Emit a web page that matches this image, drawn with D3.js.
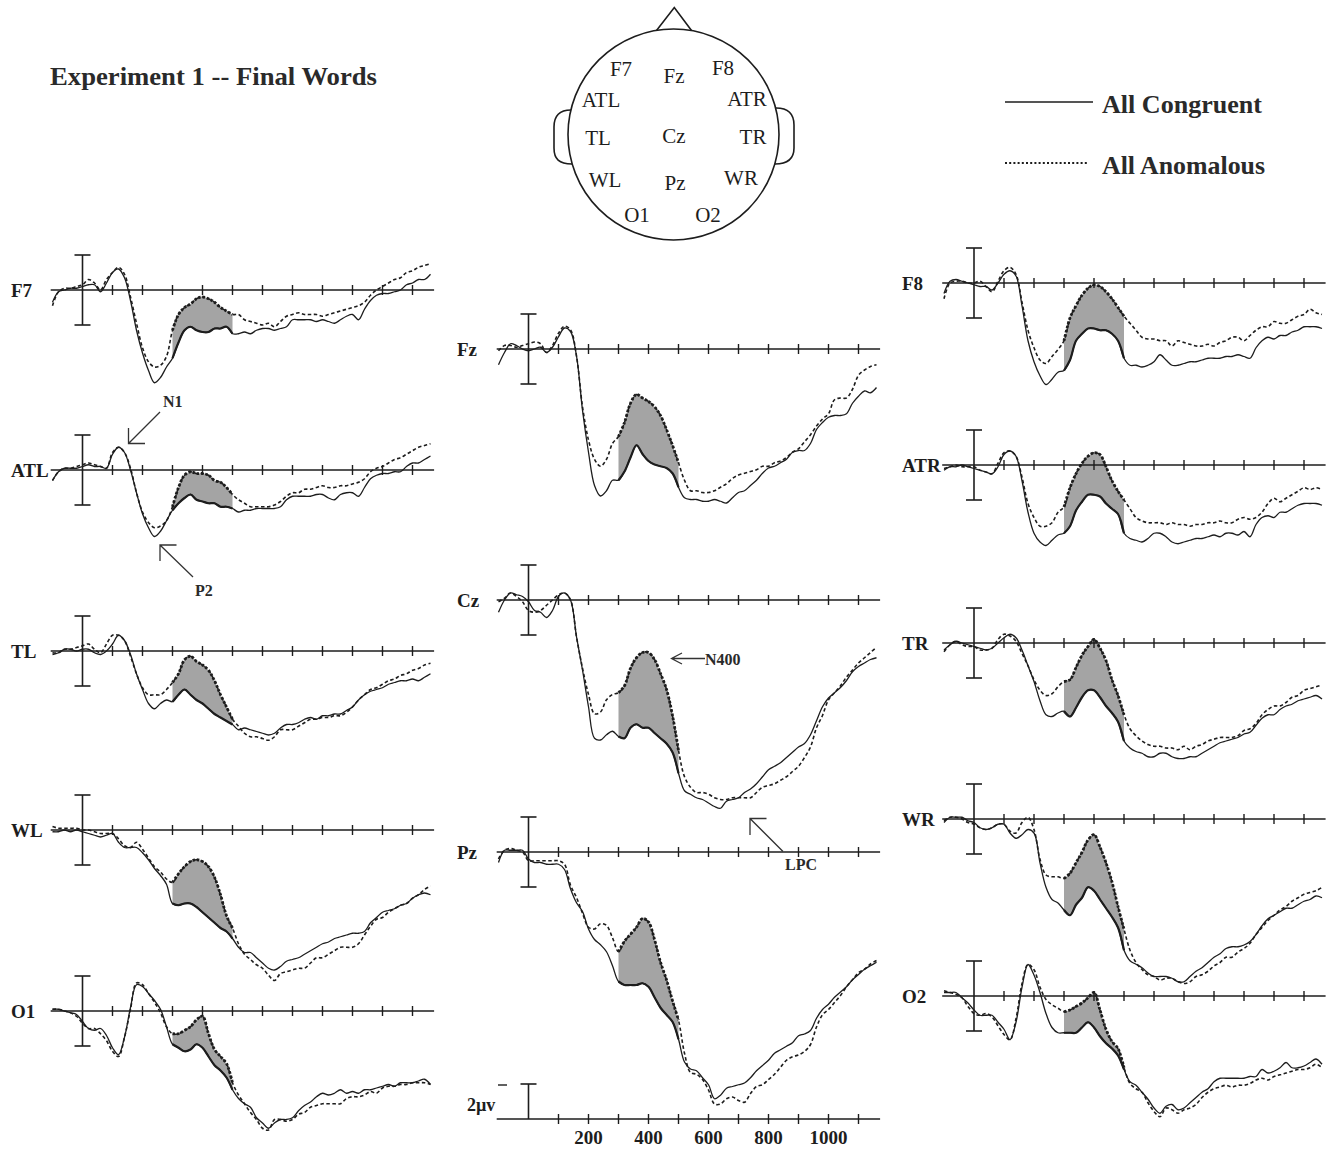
<!DOCTYPE html>
<html><head><meta charset="utf-8">
<script src="https://cdn.jsdelivr.net/npm/d3@7"></script>
<style>body{margin:0;background:#fff}svg{display:block}</style>
</head><body>
<svg id="chart" width="1331" height="1150"></svg>
<script>
// ---------------- DATA (µV, negative plotted up) ----------------
const TIMES = [-100,-80,-60,-40,-20,0,20,40,60,80,100,120,140,160,180,200,220,240,260,280,300,320,340,360,380,400,420,440,460,480,500,520,540,560,580,600,620,640,660,680,700,720,740,760,780,800,820,840,860,880,900,920,940,960,980,1000,1020,1040,1060,1080,1100,1120,1140,1160];
const CONDITIONS = ["All Congruent", "All Anomalous"];
const AXIS_TICKS = [100,200,300,400,500,600,700,800,900,1000,1100];
const TICK_LABELS = [200,400,600,800,1000];
const SHADE_WINDOW = [300, 500];
const CAL_UV = 2;

const F7_CONG = [0.7,0.1,0,-0.1,-0.1,-0.2,-0.3,-0.3,0.1,-0.4,-1.0,-1.2,-0.7,0.6,2.3,3.6,4.6,5.3,5.0,4.4,3.9,3.0,2.3,2.1,2.3,2.4,2.4,2.2,2.2,2.1,2.5,2.5,2.4,2.5,2.3,2.2,2.2,2.3,2.2,2.1,1.7,1.7,1.7,1.7,1.8,1.7,1.8,1.9,1.7,1.5,1.4,1.7,1.1,0.6,0.3,0.2,0.2,0.1,0,-0.3,-0.4,-0.6,-0.6,-0.9];
const F7_ANOM = [0.9,0.1,-0.1,-0.1,-0.2,-0.3,-0.6,-0.4,0,-0.6,-1.0,-1.3,-0.9,0.4,1.9,3.3,4.1,4.4,4.3,3.8,2.3,1.4,1.0,0.8,0.5,0.4,0.5,0.7,1.0,1.2,1.4,1.4,1.7,1.8,1.9,2.0,1.9,2.1,1.8,1.5,1.4,1.3,1.4,1.4,1.4,1.5,1.4,1.3,1.2,1.1,1.0,0.9,0.7,0.3,0,-0.2,-0.4,-0.6,-0.7,-1.0,-1.1,-1.3,-1.4,-1.5];
const ATL_CONG = [0.6,0.1,-0.1,-0.1,-0.1,-0.2,-0.3,-0.2,-0.2,-0.1,-0.9,-1.3,-1.0,0,1.3,2.5,3.3,3.8,3.5,2.9,2.3,1.9,1.6,1.4,1.7,1.8,1.9,1.9,2.1,2.1,2.2,2.4,2.3,2.3,2.2,2.2,2.2,2.2,2.1,1.7,1.5,1.5,1.5,1.5,1.4,1.4,1.6,1.7,1.4,1.3,1.3,1.5,1.0,0.5,0.3,0.2,0.2,0.1,0.1,-0.2,-0.4,-0.4,-0.6,-0.8];
const ATL_ANOM = [0.6,0.1,-0.1,-0.1,-0.2,-0.3,-0.4,-0.3,-0.2,-0.1,-1.0,-1.3,-1.0,-0.1,1.3,2.4,3.0,3.3,3.2,2.9,2.1,1.0,0.3,0.1,0.2,0.2,0.3,0.6,0.7,1.0,1.4,1.7,1.9,2.1,2.1,2.1,2.1,2.0,1.8,1.5,1.3,1.3,1.1,1.1,1.0,0.9,1.0,1.0,0.9,0.9,0.8,0.7,0.5,0.1,-0.1,-0.2,-0.4,-0.6,-0.7,-0.9,-1.1,-1.3,-1.4,-1.5];
const TL_CONG = [0.2,0.1,-0.1,-0.1,0,-0.1,-0.1,0.1,0.2,0,-0.4,-0.9,-0.6,0.2,1.3,2.2,3.0,3.3,3.0,2.8,2.9,2.5,2.2,2.5,2.8,3.0,3.3,3.6,3.8,4.0,4.2,4.5,4.4,4.5,4.6,4.7,4.8,4.7,4.4,4.2,4.2,4.1,3.9,3.8,3.9,3.7,3.7,3.6,3.6,3.4,3.2,2.8,2.5,2.3,2.2,2.1,1.9,1.8,1.7,1.7,1.6,1.7,1.5,1.3];
const TL_ANOM = [0.1,0.1,-0.1,-0.1,-0.2,-0.3,-0.4,-0.1,0.1,-0.4,-0.9,-0.9,-0.6,0.3,1.3,2.1,2.5,2.5,2.5,2.2,1.8,1.3,0.5,0.3,0.6,0.8,1.1,1.7,2.5,3.2,3.9,4.3,4.7,4.9,4.9,5.0,5.1,4.9,4.5,4.5,4.5,4.3,4.1,3.9,3.9,3.8,3.8,3.7,3.7,3.5,3.2,2.8,2.5,2.2,2.1,1.9,1.7,1.6,1.4,1.3,1.1,1.0,0.8,0.7];
const WL_CONG = [0.1,0.1,0,0.1,0,0.1,0.2,0.3,0.4,0.3,0.2,0.7,1.0,1.0,1.0,1.3,1.7,2.2,2.6,3.1,4.2,4.3,4.2,4.2,4.4,4.7,5.0,5.3,5.6,5.8,6.2,6.7,7.0,7.0,7.3,7.6,7.9,8.0,7.8,7.5,7.4,7.3,7.1,6.9,6.7,6.5,6.4,6.2,6.1,6.0,5.9,5.9,5.8,5.3,5.0,4.7,4.6,4.5,4.3,4.2,3.9,3.7,3.6,3.7];
const WL_ANOM = [-0.2,-0.1,-0.1,-0.1,-0.1,0,0,0.1,0.2,0.2,0.2,0.5,0.9,1.0,0.7,1.1,1.6,2.1,2.4,2.8,3.0,2.5,2.1,1.8,1.7,1.8,2.1,2.7,3.7,4.9,5.6,6.5,7.1,7.4,7.7,7.9,8.3,8.6,8.2,8.1,8.0,7.9,7.9,7.6,7.3,7.3,7.1,6.9,6.7,6.7,6.7,6.5,6.0,5.5,5.1,5.0,4.7,4.5,4.3,4.2,3.9,3.7,3.4,3.2];
const O1_CONG = [-0.1,-0.1,0,0.1,0.2,0.6,1.0,1.1,1.0,1.4,2.1,2.5,1.5,-0.2,-1.5,-1.4,-1.0,-0.6,-0.1,0.9,1.9,2.1,2.3,2.2,1.9,2.1,2.6,3.1,3.4,3.8,4.5,5.0,5.3,5.5,6.1,6.4,6.7,6.4,6.2,6.2,6.1,5.7,5.4,5.2,4.9,4.7,4.8,4.7,4.5,4.7,4.6,4.7,4.5,4.5,4.4,4.3,4.2,4.3,4.1,4.1,4.1,4.0,3.9,4.2];
const O1_ANOM = [-0.1,-0.1,0,0.1,0.3,0.7,1.0,1.0,1.3,1.7,2.3,2.6,1.5,-0.1,-1.6,-1.5,-1.0,-0.5,0.1,0.9,1.3,1.3,1.1,0.9,0.5,0.3,1.3,2.2,2.6,3.0,4.1,4.8,5.3,5.8,6.2,6.7,6.8,6.2,6.2,6.3,6.2,5.9,5.8,5.5,5.4,5.3,5.3,5.3,5.3,5.0,4.9,4.9,4.8,4.6,4.7,4.4,4.3,4.3,4.2,4.2,4.1,4.1,4.1,4.2];
const FZ_CONG = [0.9,0.2,-0.3,-0.2,0,0.1,0,-0.1,0.2,-0.1,-0.7,-1.2,-1.0,0.4,3.5,5.9,7.8,8.4,8.1,7.5,7.5,7.0,6.2,5.5,6.0,6.4,6.6,6.7,6.8,7.1,7.9,8.5,8.6,8.6,8.7,8.7,8.6,8.7,8.8,8.5,8.2,8.1,7.8,7.5,7.1,6.8,6.7,6.5,6.3,5.9,5.8,5.8,5.4,4.6,4.2,3.9,3.8,3.8,3.7,3.1,2.7,2.4,2.5,2.2];
const FZ_ANOM = [0.1,-0.2,-0.2,-0.1,-0.2,-0.3,-0.4,-0.3,0.2,-0.2,-0.9,-1.3,-1.1,0.4,3.3,5.2,6.3,6.7,6.3,5.4,5.0,4.2,3.1,2.6,2.8,3.0,3.3,3.8,4.6,5.5,6.5,7.5,8.1,8.1,8.2,8.2,8.1,7.9,7.7,7.4,7.2,7.1,7.0,6.9,6.7,6.7,6.5,6.4,6.2,5.9,5.7,5.3,4.9,4.4,4.0,3.7,2.9,2.8,2.8,2.3,1.5,1.2,1.0,0.9];
const CZ_CONG = [0.7,0,-0.4,-0.3,-0.2,0.1,0.6,0.7,1.0,0.6,-0.2,-0.4,0,2.1,4.0,6.1,7.9,8.0,7.7,7.5,7.8,7.9,7.3,7.1,7.3,7.3,7.6,7.9,8.2,8.7,9.9,10.9,11.1,11.3,11.4,11.6,11.8,11.9,11.5,11.4,11.3,11.0,10.8,10.5,10.1,9.7,9.5,9.3,9.0,8.7,8.4,8.2,7.7,6.9,6.1,5.6,5.3,5.0,4.6,4.1,3.8,3.6,3.4,3.3];
const CZ_ANOM = [0.1,-0.1,-0.4,-0.2,0.1,0.6,0.7,0.6,0.3,0,-0.3,-0.4,0,2.1,3.9,5.4,6.5,6.4,5.7,5.4,5.3,4.9,3.9,3.3,3.0,3.0,3.4,4.2,5.1,6.6,8.6,10.1,10.7,11.0,11.0,11.1,11.3,11.4,11.4,11.3,11.3,11.3,11.3,11.0,10.7,10.6,10.5,10.3,10.1,9.8,9.5,9.0,8.4,7.3,6.6,5.7,5.3,4.9,4.4,4.0,3.6,3.3,3.0,2.7];
const PZ_CONG = [0.6,-0.1,-0.1,-0.1,-0.1,0.4,0.6,0.6,0.7,0.7,0.7,1.0,2.1,2.9,3.4,4.4,5.0,5.3,5.7,6.5,7.4,7.6,7.6,7.6,7.5,7.7,8.3,8.9,9.3,9.7,10.7,12.0,12.4,12.5,12.9,13.3,14.1,13.9,13.5,13.4,13.3,13.2,12.9,12.5,12.2,11.9,11.5,11.3,11.1,10.9,10.5,10.4,10.2,9.5,9.0,8.7,8.3,8.0,7.7,7.3,7.0,6.7,6.5,6.3];
const PZ_ANOM = [0.4,-0.1,-0.2,-0.1,0,0.5,0.5,0.5,0.5,0.5,0.5,0.7,1.9,2.6,3.5,4.3,4.4,4.1,4.2,4.9,5.7,5.1,4.7,4.3,3.8,4.0,5.0,6.3,7.3,8.5,9.6,11.5,12.6,12.7,13.0,13.6,14.4,14.4,14.1,14.0,14.2,14.3,13.8,13.4,13.3,13.0,12.7,12.3,11.9,11.7,11.6,11.4,11.0,10.0,9.3,9.0,8.6,8.2,7.7,7.3,6.9,6.7,6.4,6.2];
const F8_CONG = [0.6,-0.1,-0.2,-0.1,0,0.1,0.2,0.2,0.4,0,-0.5,-0.7,-0.4,1.3,3.3,4.5,5.3,5.8,5.5,5.1,5.0,4.4,3.3,2.9,2.6,2.6,2.7,2.7,2.9,3.3,4.3,4.7,4.7,4.8,4.7,4.5,4.1,4.4,4.7,4.7,4.6,4.5,4.5,4.4,4.3,4.3,4.3,4.2,4.2,4.1,4.2,4.3,3.7,3.3,3.1,3.2,3.0,3.0,2.8,2.7,2.5,2.5,2.5,2.6];
const F8_ANOM = [0.9,0,-0.1,-0.1,0,0,-0.1,0.2,0.5,-0.1,-0.7,-0.9,-0.5,1.1,2.7,3.7,4.4,4.6,4.2,3.8,3.3,2.0,1.3,0.7,0.3,0.1,0.2,0.5,0.9,1.4,1.9,2.3,2.7,3.1,3.2,3.2,3.3,3.3,3.6,3.3,3.4,3.5,3.6,3.6,3.5,3.6,3.4,3.3,3.1,3.1,3.3,3.0,2.7,2.5,2.5,2.2,2.3,2.3,2.1,1.9,1.8,1.5,1.7,1.8];
const ATR_CONG = [0.3,0.1,0.1,0,0.1,0.2,0.3,0.4,0.5,0.1,-0.6,-0.8,-0.5,0.9,2.7,3.9,4.4,4.6,4.3,4.0,3.9,3.5,2.6,2.1,1.7,1.7,1.8,2.2,2.5,2.8,3.9,4.2,4.3,4.4,4.2,3.9,3.9,4.1,4.4,4.5,4.4,4.3,4.2,4.2,4.1,4.0,4.1,3.9,3.9,4.0,3.8,4.1,3.4,3.0,2.9,3.0,2.7,2.7,2.5,2.3,2.2,2.2,2.2,2.3];
const ATR_ANOM = [0.2,0.1,0,0.1,0.1,0.1,0.3,0.4,0.5,-0.1,-0.7,-0.8,-0.5,0.7,2.2,3.0,3.5,3.5,3.3,2.7,2.4,1.3,0.5,-0.1,-0.5,-0.7,-0.6,0.1,0.9,1.5,2.0,2.5,3.0,3.2,3.3,3.3,3.3,3.4,3.3,3.4,3.4,3.5,3.4,3.4,3.3,3.3,3.2,3.3,3.3,3.1,3.0,3.1,3.0,2.7,2.2,1.9,2.1,1.9,1.7,1.5,1.3,1.4,1.3,1.4];
const TR_CONG = [0.4,0.1,-0.1,0,0.1,0.2,0.3,0.4,0.3,0,-0.3,-0.5,-0.3,0.4,1.3,2.2,3.3,4.1,4.2,4.0,3.9,4.2,3.7,3.1,2.7,2.7,3.1,3.6,4.0,4.5,5.6,6.0,6.2,6.3,6.5,6.5,6.3,6.3,6.5,6.6,6.6,6.5,6.5,6.3,6.1,5.9,5.7,5.6,5.5,5.4,5.2,5.1,4.7,4.3,4.1,4.1,3.8,3.6,3.5,3.3,3.2,3.1,3.0,3.2];
const TR_ANOM = [0.5,0.1,-0.1,0.1,0.2,0.2,0.4,0.4,0.3,-0.2,-0.5,-0.4,-0.1,0.6,1.3,2.1,2.7,3.0,2.9,2.5,2.2,2.1,1.4,0.7,0.2,-0.2,0.3,1.0,2.1,3.0,4.1,4.9,5.3,5.6,5.8,5.9,5.9,6.0,6.0,6.1,5.9,6.1,5.9,5.8,5.6,5.5,5.4,5.4,5.4,5.3,5.0,4.9,4.6,4.1,3.8,3.6,3.6,3.4,3.1,3.0,2.7,2.6,2.5,2.4];
const WR_CONG = [0.2,-0.1,-0.1,-0.1,0.1,0.2,0.5,0.6,0.5,0.3,0.3,0.8,1.1,0.9,0.6,0.8,2.5,3.9,4.6,4.8,5.2,5.5,4.9,4.5,3.9,4.1,4.6,5.1,5.6,6.2,7.5,8.1,8.3,8.5,8.8,9.0,9.0,9.0,9.1,9.3,9.3,9.0,8.7,8.5,8.2,7.9,7.7,7.4,7.3,7.3,7.2,7.0,6.6,6.1,5.7,5.5,5.3,5.1,5.1,4.9,4.7,4.6,4.4,4.5];
const WR_ANOM = [0.1,-0.1,-0.1,0,0.2,0.3,0.5,0.6,0.5,0.3,0.3,0.7,0.8,0.2,-0.1,0.6,2.3,3.2,3.3,3.3,3.4,3.1,2.5,1.9,1.2,0.9,1.6,2.5,3.6,5.0,6.3,7.5,8.2,8.6,8.9,9.0,9.2,9.1,9.1,9.3,9.4,9.3,9.0,8.9,8.7,8.4,8.2,7.9,7.9,7.6,7.4,7.1,6.6,6.2,5.8,5.5,5.2,5.0,4.7,4.5,4.3,4.2,4.1,3.9];
const O2_CONG = [-0.2,-0.2,-0.2,0.1,0.4,0.8,1.1,1.1,1.1,1.5,1.9,2.5,1.5,-0.5,-1.8,-1.2,-0.2,1.0,1.8,2.1,2.1,2.1,2.1,1.8,1.5,1.8,2.3,2.7,3.0,3.4,4.2,4.9,5.1,5.5,5.9,6.4,6.7,6.3,6.2,6.5,6.4,6.1,5.8,5.5,5.3,4.9,4.7,4.7,4.7,4.7,4.7,4.6,4.6,4.2,4.4,4.3,4.1,3.8,4.1,4.1,4.0,3.8,3.6,3.9];
const O2_ANOM = [-0.3,-0.2,-0.1,0.1,0.6,1.0,1.1,1.0,1.2,1.7,2.2,2.5,1.3,-0.7,-1.8,-1.5,-0.5,0.2,0.5,0.7,0.9,0.8,0.6,0.4,0.1,-0.2,0.8,1.9,2.6,3.0,4.1,5.0,5.3,5.5,6.1,6.6,6.9,6.4,6.5,6.7,6.5,6.4,6.2,5.8,5.5,5.3,5.2,5.1,5.2,5.1,5.1,5.0,4.8,4.7,4.8,4.6,4.5,4.4,4.3,4.2,4.2,4.1,3.9,4.1];

const HEAD_SITES = ["F7","Fz","F8","ATL","ATR","TL","Cz","TR","WL","Pz","WR","O1","O2"];

// ---------------- LAYOUT ----------------
const svg = d3.select("#chart");
const INK = "#1d1d1d";
const SERIF = "'Liberation Serif','Times New Roman',Times,serif";
const UV_PX = 17.5;            // pixels per microvolt
const MS_PX = 0.3;             // pixels per millisecond
const T_DOMAIN = [-106, 1172];
const COL_T0 = {L: 82.5, C: 528.5, R: 974};
const LABEL_X = {L: 11, C: 457, R: 902};

const PANELS = [
  {name:"F7",  col:"L", base:290,  cong:F7_CONG,  anom:F7_ANOM},
  {name:"ATL", col:"L", base:470,  cong:ATL_CONG, anom:ATL_ANOM},
  {name:"TL",  col:"L", base:651,  cong:TL_CONG,  anom:TL_ANOM},
  {name:"WL",  col:"L", base:830,  cong:WL_CONG,  anom:WL_ANOM},
  {name:"O1",  col:"L", base:1011, cong:O1_CONG,  anom:O1_ANOM},
  {name:"Fz",  col:"C", base:349,  cong:FZ_CONG,  anom:FZ_ANOM},
  {name:"Cz",  col:"C", base:600,  cong:CZ_CONG,  anom:CZ_ANOM},
  {name:"Pz",  col:"C", base:852,  cong:PZ_CONG,  anom:PZ_ANOM},
  {name:"F8",  col:"R", base:283,  cong:F8_CONG,  anom:F8_ANOM},
  {name:"ATR", col:"R", base:465,  cong:ATR_CONG, anom:ATR_ANOM},
  {name:"TR",  col:"R", base:643,  cong:TR_CONG,  anom:TR_ANOM},
  {name:"WR",  col:"R", base:819,  cong:WR_CONG,  anom:WR_ANOM},
  {name:"O2",  col:"R", base:996,  cong:O2_CONG,  anom:O2_ANOM}
];

function xScale(col){
  const t0 = COL_T0[col];
  return d3.scaleLinear().domain(T_DOMAIN).range([t0 + T_DOMAIN[0]*MS_PX, t0 + T_DOMAIN[1]*MS_PX]);
}
function yScale(base){
  return d3.scaleLinear().domain([-CAL_UV, CAL_UV]).range([base - CAL_UV*UV_PX, base + CAL_UV*UV_PX]);
}

function drawAxis(g, x, y){
  g.append("line").attr("x1", x(T_DOMAIN[0])).attr("x2", x(T_DOMAIN[1]))
    .attr("y1", y(0)).attr("y2", y(0)).attr("stroke", INK).attr("stroke-width", 1.6);
  g.selectAll("line.tick").data(AXIS_TICKS).join("line").attr("class","tick")
    .attr("x1", d => x(d)).attr("x2", d => x(d))
    .attr("y1", y(0) - 5).attr("y2", y(0) + 5)
    .attr("stroke", INK).attr("stroke-width", 1.4);
}

PANELS.forEach(p => {
  const x = xScale(p.col), y = yScale(p.base);
  const g = svg.append("g").attr("class", "panel");
  const rows = TIMES.map((t, i) => ({t, c: p.cong[i], a: p.anom[i]}));
  const win = rows.filter(d => d.t >= SHADE_WINDOW[0] && d.t <= SHADE_WINDOW[1]);
  const curve = d3.curveCatmullRom.alpha(0.5);

  // shaded N400 difference
  g.append("path").datum(win)
    .attr("d", d3.area().x(d => x(d.t)).y0(d => y(d.c)).y1(d => y(d.a)).curve(curve))
    .attr("fill", "#a4a4a4");

  drawAxis(g, x, y);

  // calibration bar at t = 0
  g.append("line").attr("x1", x(0)).attr("x2", x(0)).attr("y1", y(-CAL_UV)).attr("y2", y(CAL_UV))
    .attr("stroke", INK).attr("stroke-width", 1.6);
  [-CAL_UV, CAL_UV].forEach(v => g.append("line")
    .attr("x1", x(0) - 8).attr("x2", x(0) + 8).attr("y1", y(v)).attr("y2", y(v))
    .attr("stroke", INK).attr("stroke-width", 1.6));

  const lineC = d3.line().x(d => x(d.t)).y(d => y(d.c)).curve(curve);
  const lineA = d3.line().x(d => x(d.t)).y(d => y(d.a)).curve(curve);

  g.append("path").datum(rows).attr("d", lineC)
    .attr("fill", "none").attr("stroke", INK).attr("stroke-width", 1.3);
  g.append("path").datum(rows).attr("d", lineA)
    .attr("fill", "none").attr("stroke", INK).attr("stroke-width", 1.6)
    .attr("stroke-dasharray", "3.5,2.5");
  // heavier traces inside the shaded window
  g.append("path").datum(win).attr("d", lineC)
    .attr("fill", "none").attr("stroke", INK).attr("stroke-width", 2.2);
  g.append("path").datum(win).attr("d", lineA)
    .attr("fill", "none").attr("stroke", INK).attr("stroke-width", 2.8)
    .attr("stroke-dasharray", "2.5,1.8");

  g.append("text").attr("x", LABEL_X[p.col]).attr("y", p.base + 7)
    .attr("font-family", SERIF).attr("font-weight", "bold").attr("font-size", 19)
    .attr("fill", INK).text(p.name);
});

// ---------------- bottom time axis + 2µV calibration (under Pz) ----------------
{
  const x = xScale("C"), y = yScale(1119);
  const g = svg.append("g");
  drawAxis(g, x, y);
  g.append("line").attr("x1", x(0)).attr("x2", x(0)).attr("y1", y(0)).attr("y2", y(-CAL_UV))
    .attr("stroke", INK).attr("stroke-width", 1.6);
  g.append("line").attr("x1", x(0) - 8).attr("x2", x(0) + 8).attr("y1", y(-CAL_UV)).attr("y2", y(-CAL_UV))
    .attr("stroke", INK).attr("stroke-width", 1.6);
  g.selectAll("text.tl").data(TICK_LABELS).join("text").attr("class","tl")
    .attr("x", d => x(d)).attr("y", 1144).attr("text-anchor", "middle")
    .attr("font-family", SERIF).attr("font-weight", "bold").attr("font-size", 19)
    .attr("fill", INK).text(d => d);
  g.append("text").attr("x", 467).attr("y", 1111)
    .attr("font-family", SERIF).attr("font-weight", "bold").attr("font-size", 18)
    .attr("fill", INK).text("2µv");
  g.append("line").attr("x1", 498).attr("x2", 507).attr("y1", y(-CAL_UV) + 1).attr("y2", y(-CAL_UV) + 1)
    .attr("stroke", INK).attr("stroke-width", 1.4);
}

// ---------------- title ----------------
svg.append("text").attr("x", 50).attr("y", 85)
  .attr("font-family", SERIF).attr("font-weight", "bold").attr("font-size", 25)
  .attr("textLength", 327).attr("lengthAdjust", "spacingAndGlyphs")
  .attr("fill", "#2a2a2a").text("Experiment 1 -- Final Words");

// ---------------- legend ----------------
{
  const g = svg.append("g");
  const rowsY = [102, 163];
  const widths = [160, 163];
  CONDITIONS.forEach((c, i) => {
    g.append("line").attr("x1", 1005).attr("x2", i ? 1089 : 1093)
      .attr("y1", rowsY[i]).attr("y2", rowsY[i])
      .attr("stroke", INK).attr("stroke-width", i ? 1.8 : 1.3)
      .attr("stroke-dasharray", i ? "2,2.2" : null);
    g.append("text").attr("x", 1102).attr("y", rowsY[i] + 11)
      .attr("font-family", SERIF).attr("font-weight", "bold").attr("font-size", 25)
      .attr("textLength", widths[i]).attr("lengthAdjust", "spacingAndGlyphs")
      .attr("fill", "#2a2a2a").text(c);
  });
}

// ---------------- electrode head map ----------------
{
  const g = svg.append("g").attr("fill", "none").attr("stroke", INK).attr("stroke-width", 1.6);
  const cx = 673.5, cy = 134.5, r = 105.5;
  g.append("path").attr("d", "M656.5,30.5 L674.3,7.5 L691.5,30.5");
  g.append("path").attr("d", "M571,110 C559,110 554,116 554,127 L554,148 C554,159 559,164 572,164");
  g.append("path").attr("d", "M776,108 C788,108 794,114 794,125 L794,148 C794,159 788,164 775,164");
  g.append("circle").attr("cx", cx).attr("cy", cy).attr("r", r).attr("fill", "#fff");
  const pos = {F7:[621,76],Fz:[674,83],F8:[723,75],ATL:[601,107],ATR:[747,106],TL:[598,145],Cz:[674,143],TR:[753,144],WL:[605,187],Pz:[675,190],WR:[741,185],O1:[637,222],O2:[708,222]};
  svg.append("g").selectAll("text").data(HEAD_SITES).join("text")
    .attr("x", d => pos[d][0]).attr("y", d => pos[d][1]).attr("text-anchor", "middle")
    .attr("font-family", SERIF).attr("font-size", 21).attr("fill", INK).text(d => d);
}

// ---------------- component annotations ----------------
{
  const g = svg.append("g").attr("stroke", "#333").attr("stroke-width", 1.3).attr("fill", "none");
  g.append("path").attr("d", "M160,412 L128.5,443.5 M128.5,428 L128.5,443.5 L145,443.5");
  g.append("path").attr("d", "M193,577 L160,545 M160,561 L160,545 L176.5,545");
  g.append("path").attr("d", "M705,658.5 L671.5,658.5 M682,653 L671.5,658.5 L682,664");
  g.append("path").attr("d", "M783,851.5 L750,818.5 M750,835 L750,818.5 L766.5,818.5");
  const t = svg.append("g").attr("font-family", SERIF).attr("font-weight", "bold").attr("fill", "#2a2a2a");
  t.append("text").attr("x", 163).attr("y", 407).attr("font-size", 16).text("N1");
  t.append("text").attr("x", 195).attr("y", 596).attr("font-size", 16).text("P2");
  t.append("text").attr("x", 705).attr("y", 665).attr("font-size", 16).text("N400");
  t.append("text").attr("x", 785).attr("y", 870).attr("font-size", 16).text("LPC");
}
</script>
</body></html>
